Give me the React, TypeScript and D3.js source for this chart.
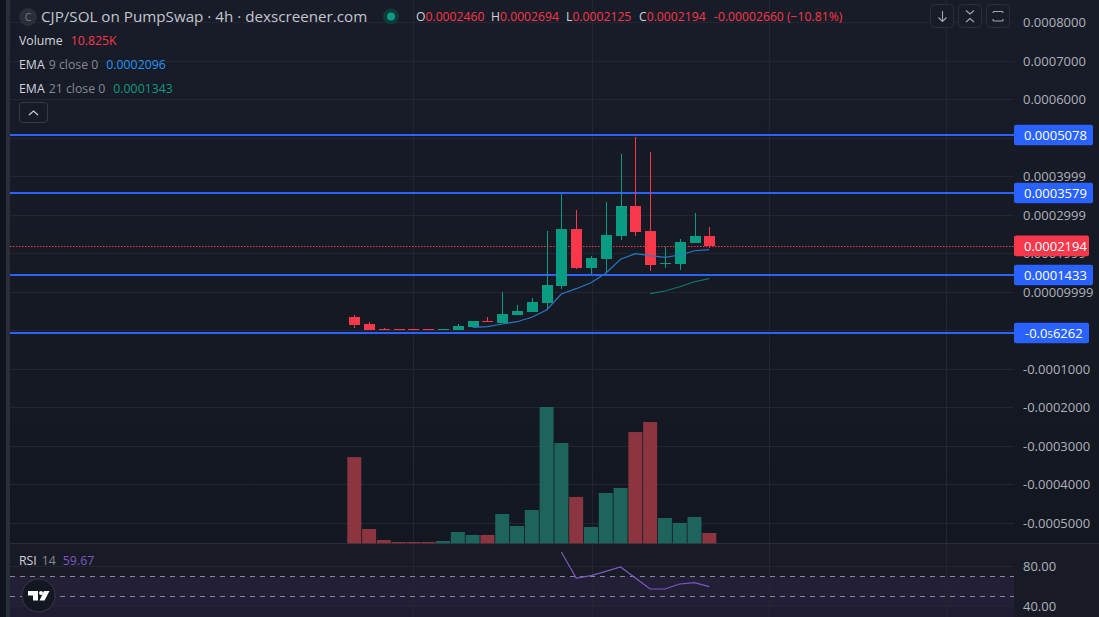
import React from "react";
import * as d3 from "d3";

const W = 1099, H = 617;
const opens = [0.0000345,0.0000164,0.0000029,0.0000029,0.0000029,0.0000029,0.0000018,0.0000008,0.0000086,0.0000242,0.0000190,0.0000397,0.0000475,0.0000709,0.0001150,0.0002631,0.0001618,0.0001852,0.0002449,0.0003228,0.0002579,0.0001727,0.0001722,0.0002267,0.0002460];
const highs = [0.0000397,0.0000216,0.0000060,0.0000029,0.0000029,0.0000029,0.0000029,0.0000164,0.0000242,0.0000345,0.0000995,0.0000657,0.0000839,0.0002579,0.0003540,0.0003124,0.0001930,0.0003332,0.0004579,0.0005020,0.0004631,0.0002163,0.0002371,0.0003046,0.0002694];
const lows = [0.0000060,0.0000008,0.0000008,0.0000018,0.0000018,0.0000018,0.0000018,0.0000008,0.0000086,0.0000216,0.0000190,0.0000397,0.0000475,0.0000527,0.0001073,0.0001592,0.0001462,0.0001488,0.0002345,0.0002449,0.0001540,0.0001618,0.0001566,0.0002267,0.0002125];
const closes = [0.0000138,0.0000008,0.0000008,0.0000018,0.0000018,0.0000018,0.0000029,0.0000112,0.0000242,0.0000216,0.0000423,0.0000501,0.0000735,0.0001176,0.0002631,0.0001618,0.0001878,0.0002475,0.0003228,0.0002553,0.0001696,0.0001748,0.0002293,0.0002460,0.0002194];
const volumes = [90.6,15.05,3.5,1.4,1.4,1.4,2.45,11.9,8.75,8.75,30.8,18.2,35,143.2,105.4,48.7,17.2,52.9,58.1,116.9,127.4,26.6,21.4,27.7,10.825];
const ema9 = [0.0000078,0.0000096,0.0000164,0.0000223,0.0000338,0.0000527,0.0000943,0.0001081,0.0001236,0.0001481,0.0001844,0.0001990,0.0001938,0.0001896,0.0001956,0.0002067,0.0002096];
const ema9Start = 8;
const ema21 = [0.0000951,0.0001021,0.0001132,0.0001262,0.0001343];
const ema21Start = 20;
const rsi = [94.3,68.3,70.6,75,79.3,68.3,57.3,57.3,62.3,63.6,59.67];
const rsiStart = 14;
const priceTicks: [number, string][] = [[0.0008,"0.0008000"],[0.0007,"0.0007000"],[0.0006,"0.0006000"],[0.0005,""],[0.0004,"0.0003999"],[0.0003,"0.0002999"],[0.0002,"0.0001999"],[0.0001,"0.00009999"],[0,""],[-0.0001,"-0.0001000"],[-0.0002,"-0.0002000"],[-0.0003,"-0.0003000"],[-0.0004,"-0.0004000"],[-0.0005,"-0.0005000"]];
const levels = [0.0005078, 0.0003579, 0.0001433, -0.000006262];
const levelLabels = ["0.0005078", "0.0003579", "0.0001433", ""];
const lastPrice = 0.0002194;
const timeGrid = [413.3, 591.5, 768.5, 946];
const rsiTicks = [80, 40];

const GRID = "#232632", GREEN = "#0a9b83", RED = "#f7384b", BLUE = "#2962ff";
const FONT = "'Open Sans', sans-serif";
const L = 10, R = 1014;

const x = d3.scaleLinear().domain([0, 24]).range([354.3, 709.3]);
const y = d3.scaleLinear().domain([0, 0.0008]).range([330.3, 22.3]);
const yVol = d3.scaleLinear().domain([0, 143.2]).range([543.3, 407]);
const yRsi = d3.scaleLinear().domain([40, 80]).range([606.3, 566.3]);

const emaLine = (start: number) => d3.line<number>().x((_, i) => x(i + start)).y((d) => y(d));
const rsiLine = d3.line<number>().x((_, i) => x(i + rsiStart)).y((d) => yRsi(d));

function Legend({ top, name, args, value, color }: { top: number; name: string; args: string; value: string; color: string }) {
  return (
    <text x={19} y={top} fontSize={12.3} fontFamily={FONT} fill="#d1d4dc">
      {name}
      <tspan fill="#868993" dx={4}>{args}</tspan>
      <tspan fill={color} dx={8}>{value}</tspan>
    </text>
  );
}

function Ohlc() {
  const parts: [string, string][] = [["O", "0.0002460"], ["H", "0.0002694"], ["L", "0.0002125"], ["C", "0.0002194"]];
  const xs = [416, 491, 566, 639];
  return (
    <g fontSize={12.2} fontFamily={FONT}>
      {parts.map((p, i) => (
        <text key={p[0]} x={xs[i]} y={21} fill={RED}>
          <tspan fill="#d1d4dc">{p[0]}</tspan>{p[1]}
        </text>
      ))}
      <text x={714} y={21} fill={RED}>-0.00002660 (−10.81%)</text>
    </g>
  );
}

export default function App() {
  return (
    <svg width={W} height={H} viewBox={`0 0 ${W} ${H}`} style={{ position: "fixed", left: 0, top: 0, display: "block" }}>
      <defs>
        <linearGradient id="bg" x1="0" y1="0" x2="0" y2="1">
          <stop offset="0" stopColor="#181c28" />
          <stop offset="1" stopColor="#131721" />
        </linearGradient>
      </defs>
      <rect width={W} height={544} fill="url(#bg)" />
      <rect y={544} width={W} height={H - 544} fill="#181b26" />
      <rect x={0} y={0} width={6} height={H} fill="#11141c" />
      <rect x={6} y={0} width={4} height={H} fill="#2a2e39" />

      {/* grid */}
      {priceTicks.map((t) => (
        <line key={t[0]} x1={L} x2={R} y1={Math.round(y(t[0])) + 0.5} y2={Math.round(y(t[0])) + 0.5} stroke={GRID} />
      ))}

      {/* RSI pane */}
      <rect x={L} y={576.5} width={R - L} height={30} fill="#231f36" />
      <rect x={L} y={606.5} width={R - L} height={H - 606.5} fill="#1f1c31" />
      {timeGrid.map((t) => (
        <line key={t} x1={Math.round(t) + 0.5} x2={Math.round(t) + 0.5} y1={0} y2={H} stroke={GRID} />
      ))}
      <line x1={L} x2={W} y1={543.5} y2={543.5} stroke="#2a2e39" />
      {rsiTicks.map((t) => (
        <line key={t} x1={L} x2={R} y1={Math.round(yRsi(t)) + 0.5} y2={Math.round(yRsi(t)) + 0.5} stroke={GRID} />
      ))}
      {[70, 50].map((t) => (
        <line key={t} x1={L} x2={R} y1={Math.round(yRsi(t)) + 0.5} y2={Math.round(yRsi(t)) + 0.5} stroke="#868993" strokeDasharray="5 5" />
      ))}
      <path d={rsiLine(rsi) ?? ""} fill="none" stroke="#7e57c2" strokeWidth={1.2} />

      {/* volume */}
      {volumes.map((v, i) => (
        <rect key={i} x={x(i) - 7} width={14} y={yVol(v)} height={543.3 - yVol(v)} fill={closes[i] >= opens[i] ? "#1d655c" : "#8a3540"} />
      ))}

      {/* levels */}
      <line x1={L} x2={R} y1={Math.round(y(lastPrice)) + 0.5} y2={Math.round(y(lastPrice)) + 0.5} stroke={RED} strokeWidth={1.2} strokeDasharray="1.5 1.5" />
      {levels.map((l) => (
        <line key={l} x1={L} x2={R} y1={Math.round(y(l))} y2={Math.round(y(l))} stroke={BLUE} strokeWidth={2} shapeRendering="crispEdges" />
      ))}

      {/* EMA */}
      <path d={emaLine(ema21Start)(ema21) ?? ""} fill="none" stroke="#0b7b6b" strokeWidth={1.2} />

      {/* candles */}
      {opens.map((o, i) => {
        const c = closes[i];
        const col = c >= o ? GREEN : RED;
        const top = y(Math.max(o, c));
        const h = Math.max(1, Math.abs(y(o) - y(c)));
        return (
          <g key={i} shapeRendering="crispEdges">
            <line x1={Math.round(x(i)) + 0.5} x2={Math.round(x(i)) + 0.5} y1={y(highs[i])} y2={y(lows[i])} stroke={col} />
            <rect x={Math.round(x(i)) - 5} width={11} y={top} height={h} fill={col} />
          </g>
        );
      })}
      <path d={emaLine(ema9Start)(ema9) ?? ""} fill="none" stroke="#2679c2" strokeWidth={1.2} />

      {/* price axis */}
      <g fontSize={13} fontFamily={FONT} fill="#aeb1ba">
        {priceTicks.filter((t) => t[1]).map((t) => (
          <text key={t[0]} x={1023} y={y(t[0]) + 5}>{t[1]}</text>
        ))}
        {rsiTicks.map((t) => (
          <text key={t} x={1023} y={yRsi(t) + 5}>{t.toFixed(2)}</text>
        ))}
      </g>
      {levels.map((l, i) => {
        const w = levelLabels[i] ? 79 : 75;
        return (
          <g key={l}>
            <rect x={R} y={Math.round(y(l)) - 10.3} width={w} height={20.6} rx={2} fill={BLUE} />
            <text x={levelLabels[i] ? 1024 : 1025} y={y(l) + 5} fontSize={13} fontFamily={FONT} fill="#fff">
              {levelLabels[i] || <>-0.0<tspan fontSize={9.5}>5</tspan>6262</>}
            </text>
          </g>
        );
      })}
      <rect x={R} y={y(lastPrice) - 10.3} width={75} height={20.6} rx={2} fill={RED} />
      <text x={1024} y={y(lastPrice) + 5} fontSize={13} fontFamily={FONT} fill="#fff">0.0002194</text>

      {/* title + legends */}
      <circle cx={28} cy={17} r={9} fill="#2a2e39" />
      <text x={28} y={21} fontSize={10.5} textAnchor="middle" fontFamily={FONT} fill="#787b86">C</text>
      <text x={41} y={22} fontSize={15.2} fontFamily={FONT} fill="#c2c5cd">CJP/SOL on PumpSwap · 4h · dexscreener.com</text>
      <circle cx={391} cy={16.5} r={8} fill="#0f3a38" />
      <circle cx={391} cy={16.5} r={4} fill={GREEN} />
      <Ohlc />
      <text x={19} y={45} fontSize={12.3} fontFamily={FONT} fill="#d1d4dc">Volume<tspan fill={RED} dx={8}>10.825K</tspan></text>
      <Legend top={69} name="EMA" args="9 close 0" value="0.0002096" color="#2196f3" />
      <Legend top={93} name="EMA" args="21 close 0" value="0.0001343" color="#089981" />
      <rect x={19.5} y={102.5} width={28} height={20} rx={3} fill="none" stroke="#363a45" />
      <path d="M29 115 L33.5 111 L38 115" fill="none" stroke="#c8cad2" strokeWidth={1.3} />
      <text x={19} y={565} fontSize={12.3} fontFamily={FONT} fill="#d1d4dc">RSI<tspan fill="#868993" dx={5}>14</tspan><tspan fill="#7e57c2" dx={7}>59.67</tspan></text>

      {/* buttons */}
      {[930.5, 958.5, 986.5].map((bx) => (
        <rect key={bx} x={bx} y={4.5} width={23} height={23} rx={4} fill="#181c28" stroke="#2a2e39" />
      ))}
      <path d="M942.5 11 V21 M938.5 17.5 L942.5 21.5 L946.5 17.5" fill="none" stroke="#a3a6af" strokeWidth={1.1} />
      <path d="M966 10.5 L970 14 L974 10.5 M966 22 L970 18.5 L974 22" fill="none" stroke="#a3a6af" strokeWidth={1.1} />
      <path d="M993 13 V12.5 Q993 11.5 994 11.5 H1002 Q1003 11.5 1003 12.5 V13 M993 19 V20 Q993 21 994 21 H1002 Q1003 21 1003 20 V19" fill="none" stroke="#a3a6af" strokeWidth={1.1} />

      {/* logo */}
      <circle cx={38.5} cy={595.5} r={16.5} fill="#131722" stroke="#363a45" />
      <path d="M28 591 H38 V600.5 H33 V595.5 H28 Z M44 591 H49.5 L44.5 600.5 H39.5 Z" fill="#fff" />
      <circle cx={41} cy={593} r={2} fill="#fff" />
    </svg>
  );
}
